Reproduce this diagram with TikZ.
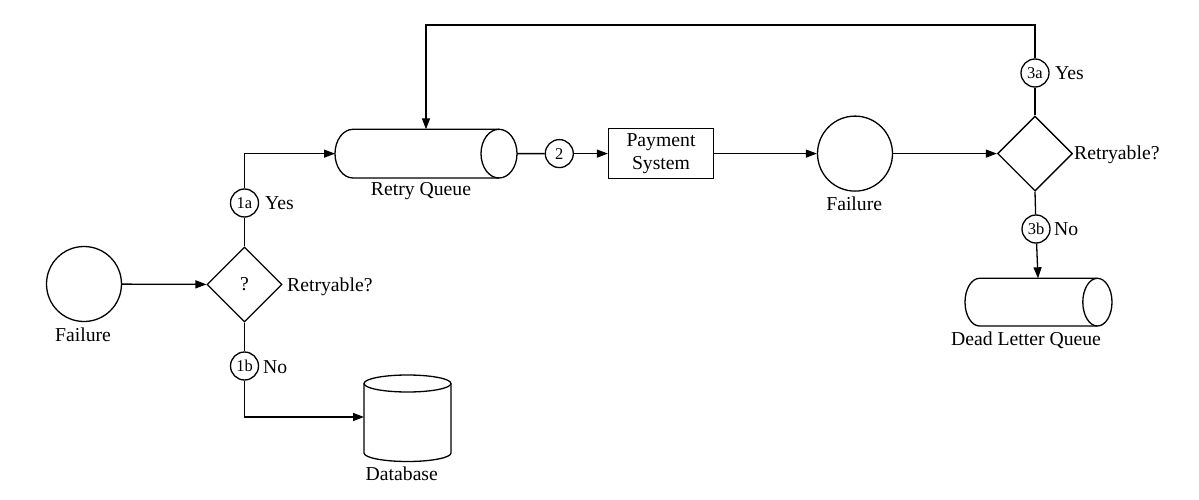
\documentclass[tikz,border=0pt]{standalone}
\usepackage{fontspec}
\setmainfont{Liberation Serif}
\usetikzlibrary{arrows.meta,shapes.geometric,calc}
\begin{document}
\begin{tikzpicture}[x=1pt,y=-1pt,
  ln/.style={line width=1.3pt, draw=black},
  arr/.style={line width=1.3pt, draw=black, -{Triangle[length=11pt,width=8pt]}},
  lbl/.style={font=\fontsize{19.7}{23}\selectfont, inner sep=0pt},
  evt/.style={circle, ln, minimum size=75pt, inner sep=0pt},
  dec/.style={diamond, ln, minimum size=75pt, inner sep=0pt, font=\fontsize{19.7}{23}\selectfont},
  num/.style={circle, ln, minimum size=28pt, inner sep=0pt, font=\fontsize{16.5}{18}\selectfont},
  hold/.style={inner sep=0pt, outer sep=0pt, draw=none},
  procbox/.style={rectangle, ln, minimum width=105pt, minimum height=50pt, inner sep=0pt, align=center, font=\fontsize{19.7}{23}\selectfont},
]
\useasboundingbox (0,0) rectangle (1199,500);

% ---------- nodes ----------
\node[evt] (f1) at (84,284) {};
\node[lbl] (f1l) at (83,335) {Failure};
\node[dec] (d1) at (244.5,284.5) {?};
\node[lbl, anchor=west] (d1l) at (287,286.5) {Retryable?};
\node[num] (c1a) at (244.5,203) {1a};
\node[lbl, anchor=west] (c1al) at (265,203.5) {Yes};
\node[num] (c1b) at (244.5,366) {1b};
\node[lbl, anchor=west] (c1bl) at (263,366.7) {No};

% database (vertical cylinder)
\node[hold, minimum width=87pt, minimum height=87pt] (db) at (407.5,417) {};
\draw[ln] (364,383.5) -- (364,453) arc[start angle=180, end angle=360, x radius=43.5pt, y radius=8.5pt] -- (451,383.5);
\draw[ln] (407.5,383.5) ellipse[x radius=43.5pt, y radius=8.5pt];
\node[lbl] (dbl) at (401.8,473.5) {Database};

% retry queue (horizontal cylinder)
\node[hold, minimum width=182pt, minimum height=48.7pt] (rq) at (426,153.65) {};
\draw[ln] (353,129.3) -- (499,129.3) arc[start angle=90, end angle=-90, x radius=18pt, y radius=24.35pt]
  -- (353,178) arc[start angle=270, end angle=90, x radius=18pt, y radius=24.35pt] -- cycle;
\draw[ln] (499,129.3) arc[start angle=90, end angle=270, x radius=18pt, y radius=24.35pt];
\node[lbl] (rql) at (421,191) {Retry Queue};

\node[num] (c2) at (559.3,153.6) {2};
\node[procbox] (pay) at (661,153.6) {Payment\\System};

\node[evt] (f2) at (855,153.6) {};
\node[lbl] (f2l) at (854.2,204.2) {Failure};
\node[dec] (d2) at (1035,153.6) {};
\node[lbl, anchor=west] (d2l) at (1074,155) {Retryable?};
\node[num] (c3a) at (1035,73) {3a};
\node[lbl, anchor=west] (c3al) at (1055,73.3) {Yes};
\node[num] (c3b) at (1036,229) {3b};
\node[lbl, anchor=west] (c3bl) at (1054,228.8) {No};

% dead letter queue (horizontal cylinder)
\node[hold, minimum width=147pt, minimum height=47.7pt] (dlq) at (1038,302.15) {};
\draw[ln] (979.6,278.3) -- (1097.4,278.3) arc[start angle=90, end angle=-90, x radius=14.6pt, y radius=23.85pt]
  -- (979.6,326) arc[start angle=270, end angle=90, x radius=14.6pt, y radius=23.85pt] -- cycle;
\draw[ln] (1097.4,278.3) arc[start angle=90, end angle=270, x radius=14.6pt, y radius=23.85pt];
\node[lbl] (dlql) at (1026,340) {Dead Letter Queue};

\coordinate (loop) at (1035,25);

% ---------- connectors ----------
\draw[arr] (f1) -- (d1);
\draw[ln] (d1.north) -- (c1a);
\draw[arr] (c1a) |- (rq.west);
\draw[ln] (d1.south) -- (c1b);
\draw[arr] (c1b) |- (db.west);
\draw[ln] (rq.east) -- (c2);
\draw[arr] (c2) -- (pay);
\draw[arr] (pay) -- (f2);
\draw[arr] (f2) -- (d2);
\draw[ln] (d2.north) -- (c3a);
\draw[arr] (c3a) -- (loop) -| (rq.north);
\draw[ln] (d2.south) -- (c3b);
\draw[arr] (c3b) -- (dlq.north);
\end{tikzpicture}
\end{document}
